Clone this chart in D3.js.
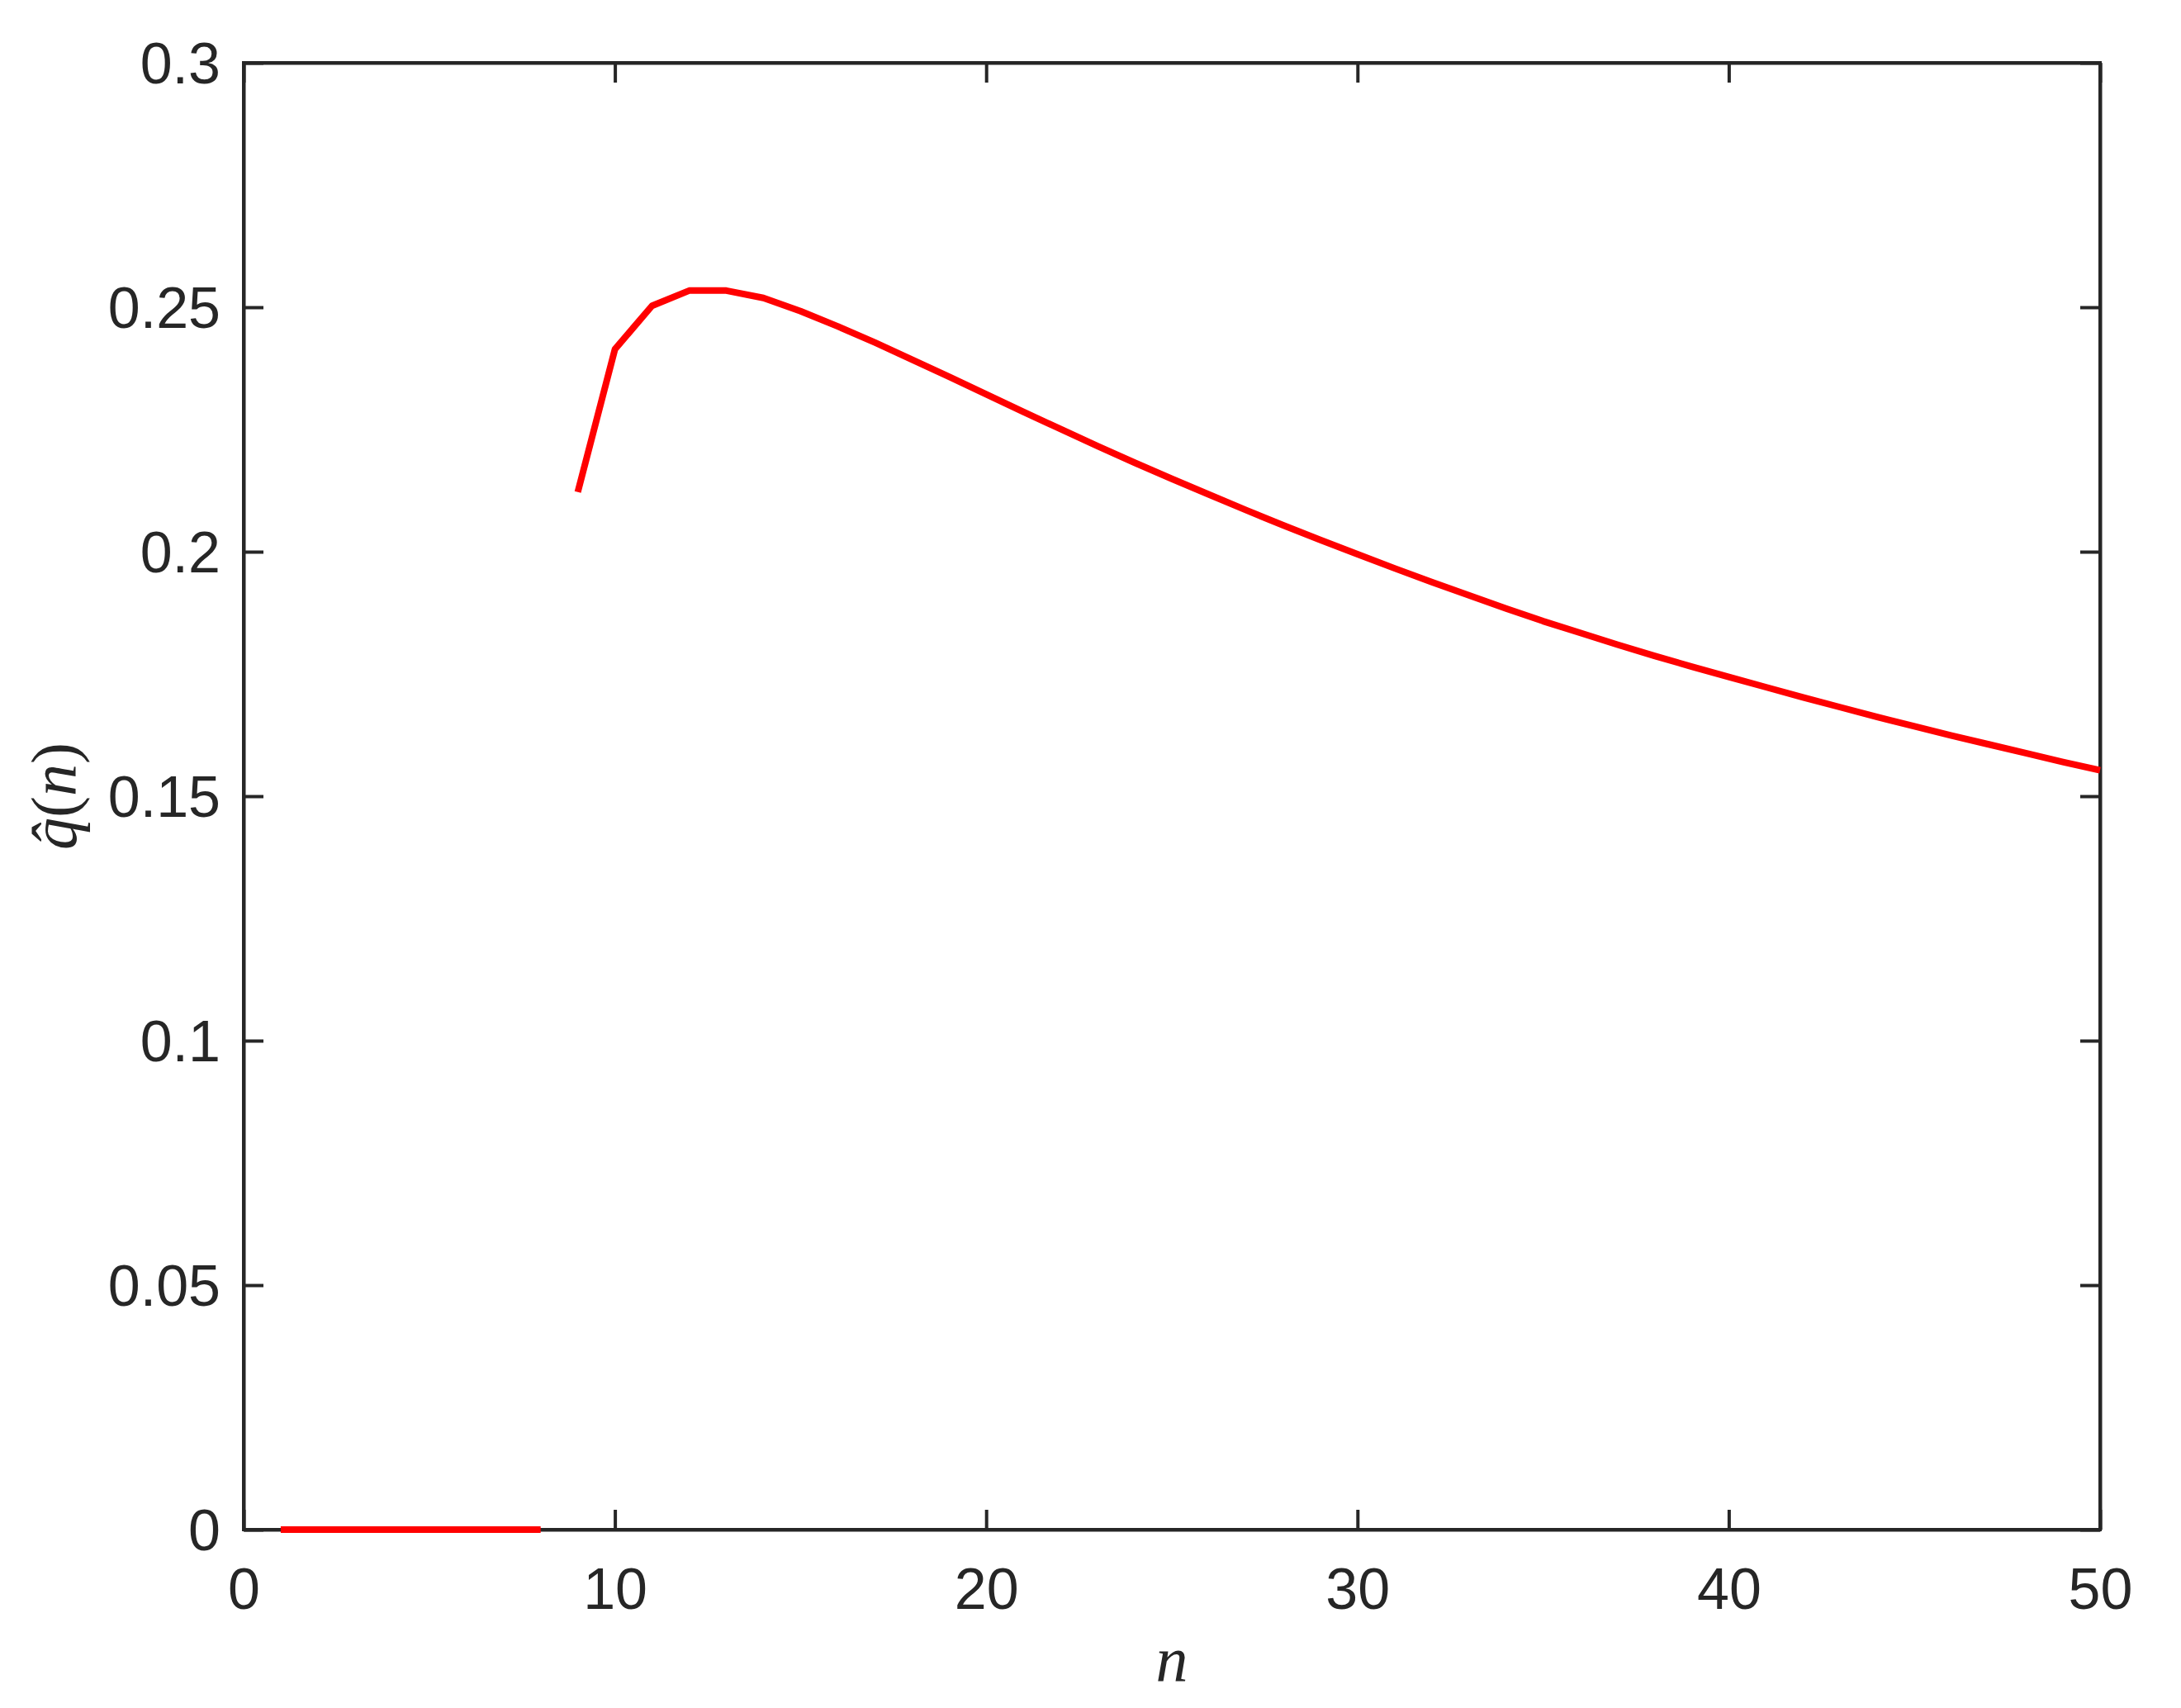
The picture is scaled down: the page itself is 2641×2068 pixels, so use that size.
<!DOCTYPE html>
<html>
<head>
<meta charset="utf-8">
<script src="https://cdn.jsdelivr.net/npm/d3@7"></script>
<style>
  html, body { margin: 0; padding: 0; background: #ffffff; }
  svg { display: block; }
</style>
</head>
<body>
<svg id="chart" width="2641" height="2068"></svg>
<script>
// ---- data ----
const zeroN = [1, 2, 3, 4, 5, 6, 7, 8];
const zeroQ = [0, 0, 0, 0, 0, 0, 0, 0];
const curveN = [9, 10, 11, 12, 13, 14, 15, 16, 17, 18, 19, 20, 21, 22, 23, 24, 25, 26, 27, 28, 29,
                30, 31, 32, 33, 34, 35, 36, 37, 38, 39, 40, 41, 42, 43, 44, 45, 46, 47, 48, 49, 50];
const curveQ = [0.2122, 0.2414, 0.2503, 0.2534, 0.2534, 0.2519, 0.2492, 0.2461, 0.2428, 0.2393,
                0.2358, 0.2322, 0.2286, 0.2251, 0.2216, 0.2182, 0.2149, 0.2117, 0.2085, 0.2054,
                0.2024, 0.1995, 0.1966, 0.1938, 0.1911, 0.1884, 0.1858, 0.1834, 0.1810, 0.1787,
                0.1765, 0.1744, 0.1723, 0.1702, 0.1682, 0.1662, 0.1643, 0.1624, 0.1606, 0.1588,
                0.1570, 0.1553];
const xTicks = [0, 10, 20, 30, 40, 50];
const yTicks = [0, 0.05, 0.1, 0.15, 0.2, 0.25, 0.3];
const yTickLabels = ["0", "0.05", "0.1", "0.15", "0.2", "0.25", "0.3"];

// ---- layout ----
const L = 295, R = 2543, T = 76, B = 1852;
const axisColor = "#262626";
const tickFont = "'Liberation Sans', Arial, Helvetica, sans-serif";
const tickSize = 70;

const svg = d3.select("#chart");
const x = d3.scaleLinear().domain([0, 50]).range([L, R]);
const y = d3.scaleLinear().domain([0, 0.3]).range([B, T]);

function styleAxis(g) {
  g.select(".domain").attr("stroke", axisColor).attr("stroke-width", 4);
  g.selectAll(".tick line").attr("stroke", axisColor).attr("stroke-width", 4);
  g.selectAll(".tick text").attr("fill", axisColor)
    .style("font-family", tickFont).style("font-size", tickSize + "px");
}

// bottom
const gB = svg.append("g").attr("transform", `translate(0,${B})`)
  .call(d3.axisBottom(x).tickValues(xTicks).tickFormat(d3.format("d")).tickSize(-24).tickSizeOuter(0));
styleAxis(gB);
gB.selectAll(".tick text").attr("y", 96).attr("dy", 0);
// top
const gT = svg.append("g").attr("transform", `translate(0,${T})`)
  .call(d3.axisTop(x).tickValues(xTicks).tickFormat("").tickSize(-24).tickSizeOuter(0));
styleAxis(gT);
// left
const gL = svg.append("g").attr("transform", `translate(${L},0)`)
  .call(d3.axisLeft(y).tickValues(yTicks).tickFormat((d, i) => yTickLabels[i]).tickSize(-24).tickSizeOuter(0));
styleAxis(gL);
gL.selectAll(".tick text").attr("x", -28).attr("dy", "0.35em");
// right
const gR = svg.append("g").attr("transform", `translate(${R},0)`)
  .call(d3.axisRight(y).tickValues(yTicks).tickFormat("").tickSize(-24).tickSizeOuter(0));
styleAxis(gR);

// box
svg.append("rect").attr("x", L).attr("y", T).attr("width", R - L).attr("height", B - T)
  .attr("fill", "none").attr("stroke", axisColor).attr("stroke-width", 4);

// ---- lines ----
const line = d3.line().x(d => x(d[0])).y(d => y(d[1]));
svg.append("path").datum(zeroN.map((n, i) => [n, zeroQ[i]]))
  .attr("d", line).attr("fill", "none").attr("stroke", "#ff0000").attr("stroke-width", 8);
svg.append("path").datum(curveN.map((n, i) => [n, curveQ[i]]))
  .attr("d", line).attr("fill", "none").attr("stroke", "#ff0000").attr("stroke-width", 8)
  .attr("stroke-linejoin", "round");

// ---- axis labels ----
svg.append("text").attr("x", (L + R) / 2).attr("y", 2036)
  .attr("text-anchor", "middle").attr("fill", axisColor)
  .style("font-family", "'Liberation Serif', serif").style("font-style", "italic").style("font-size", "78px")
  .text("n");

const yl = svg.append("text").attr("transform", `translate(92,${(T + B) / 2}) rotate(-90)`)
  .attr("text-anchor", "middle").attr("fill", axisColor)
  .style("font-family", "'Liberation Serif', serif").style("font-size", "78px");
yl.append("tspan").style("font-style", "italic").text("q\u0302");
yl.append("tspan").text("(");
yl.append("tspan").style("font-style", "italic").text("n");
yl.append("tspan").text(")");
</script>
</body>
</html>
